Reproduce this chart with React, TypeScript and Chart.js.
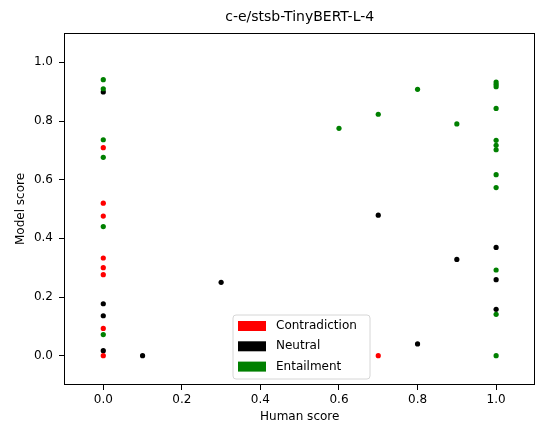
import React, { useEffect, useRef } from "react";
import { Chart, registerables } from "chart.js";

Chart.register(...registerables);

const TITLE = "c-e/stsb-TinyBERT-L-4";
const X_LABEL = "Human score";
const Y_LABEL = "Model score";
const X_TICKS = [0, 0.2, 0.4, 0.6, 0.8, 1.0];
const Y_TICKS = [0, 0.2, 0.4, 0.6, 0.8, 1.0];
const LEGEND_LABELS = ["Contradiction", "Neutral", "Entailment"];
const COLORS = ["#ff0000", "#000000", "#008000"];

const CONTRA_X = [0, 0, 0, 0, 0, 0, 0, 0, 0.7];
const CONTRA_Y = [0.709, 0.52, 0.476, 0.333, 0.3, 0.276, 0.093, 0.0, 0.0];

const NEUTRAL_X = [0, 0, 0, 0, 0.1, 0.3, 0.7, 0.8, 0.9, 1, 1, 1];
const NEUTRAL_Y = [0.899, 0.177, 0.136, 0.017, 0.0, 0.25, 0.479, 0.04, 0.328, 0.369, 0.259, 0.158];

const ENTAIL_X = [0, 0, 0, 0, 0, 0, 0.6, 0.7, 0.8, 0.9, 1, 1, 1, 1, 1, 1, 1, 1, 1, 1, 1, 1];
const ENTAIL_Y = [0.941, 0.91, 0.736, 0.676, 0.44, 0.072, 0.775, 0.823, 0.908, 0.79, 0.933, 0.925, 0.917, 0.843, 0.734, 0.717, 0.702, 0.617, 0.573, 0.292, 0.141, 0.0];

const FONT = "'DejaVu Sans', sans-serif";

const toPoints = (xs: number[], ys: number[]) => xs.map((x, i) => ({ x, y: ys[i] }));

const framePlugin = {
  id: "frameAndLegend",
  afterDraw(chart: any) {
    const { ctx, chartArea: ca } = chart;
    ctx.save();
    // frame
    ctx.strokeStyle = "#000";
    ctx.lineWidth = 1;
    ctx.strokeRect(Math.round(ca.left) + 0.5, Math.round(ca.top) + 0.5, Math.round(ca.right - ca.left) - 1, Math.round(ca.bottom - ca.top) - 1);
    // title
    ctx.fillStyle = "#000";
    ctx.font = `14px ${FONT}`;
    ctx.textAlign = "center";
    ctx.textBaseline = "middle";
    ctx.fillText(TITLE, (ca.left + ca.right) / 2, 17);
    // legend
    const bx = ca.left + 169;
    const by = ca.bottom - 70;
    const bw = 137;
    const bh = 64;
    ctx.beginPath();
    const r = 3;
    ctx.moveTo(bx + r, by);
    ctx.lineTo(bx + bw - r, by);
    ctx.quadraticCurveTo(bx + bw, by, bx + bw, by + r);
    ctx.lineTo(bx + bw, by + bh - r);
    ctx.quadraticCurveTo(bx + bw, by + bh, bx + bw - r, by + bh);
    ctx.lineTo(bx + r, by + bh);
    ctx.quadraticCurveTo(bx, by + bh, bx, by + bh - r);
    ctx.lineTo(bx, by + r);
    ctx.quadraticCurveTo(bx, by, bx + r, by);
    ctx.closePath();
    ctx.fillStyle = "rgba(255,255,255,0.8)";
    ctx.fill();
    ctx.strokeStyle = "#d6d6d6";
    ctx.lineWidth = 1;
    ctx.stroke();
    ctx.font = `12px ${FONT}`;
    ctx.textAlign = "left";
    ctx.textBaseline = "middle";
    LEGEND_LABELS.forEach((lab, i) => {
      const cy = by + 11 + i * 20.3;
      ctx.fillStyle = COLORS[i];
      ctx.fillRect(bx + 5, cy - 5, 28, 10);
      ctx.fillStyle = "#000";
      ctx.fillText(lab, bx + 43, cy);
    });
    ctx.restore();
  },
};

export default function App() {
  const ref = useRef<HTMLCanvasElement | null>(null);
  useEffect(() => {
    if (!ref.current) return;
    const mkDs = (label: string, xs: number[], ys: number[], color: string) => ({
      label,
      data: toPoints(xs, ys),
      backgroundColor: color,
      borderColor: color,
      borderWidth: 0,
      pointRadius: 2.6,
      pointHoverRadius: 2.6,
    });
    const chart = new Chart(ref.current, {
      type: "scatter",
      data: {
        datasets: [
          mkDs(LEGEND_LABELS[2], ENTAIL_X, ENTAIL_Y, COLORS[2]),
          mkDs(LEGEND_LABELS[0], CONTRA_X, CONTRA_Y, COLORS[0]),
          mkDs(LEGEND_LABELS[1], NEUTRAL_X, NEUTRAL_Y, COLORS[1]),
        ],
      },
      options: {
        responsive: false,
        animation: false,
        layout: { padding: { top: 33, right: 1, left: 0, bottom: 0 } },
        plugins: {
          legend: { display: false },
          title: { display: false },
          tooltip: { enabled: false },
        },
        scales: {
          x: {
            type: "linear",
            min: -0.1,
            max: 1.1,
            afterBuildTicks: (s: any) => {
              s.ticks = X_TICKS.map((v) => ({ value: v }));
            },
            afterFit: (s: any) => {
              s.height = 40;
            },
            border: { display: false },
            grid: { display: true, drawOnChartArea: false, drawTicks: true, tickLength: 5, tickColor: "#000", tickWidth: 1 },
            ticks: {
              color: "#000",
              font: { family: FONT, size: 12 },
              padding: 3,
              maxRotation: 0,
              callback: (v: any) => Number(v).toFixed(1),
            },
            title: {
              display: true,
              text: X_LABEL,
              color: "#000",
              font: { family: FONT, size: 12 },
              padding: { top: 0, bottom: 1 },
            },
          },
          y: {
            type: "linear",
            min: -0.1,
            max: 1.1,
            afterBuildTicks: (s: any) => {
              s.ticks = Y_TICKS.map((v) => ({ value: v }));
            },
            afterFit: (s: any) => {
              s.width = 64;
            },
            border: { display: false },
            grid: { display: true, drawOnChartArea: false, drawTicks: true, tickLength: 5, tickColor: "#000", tickWidth: 1 },
            ticks: {
              color: "#000",
              font: { family: FONT, size: 12 },
              padding: 6,
              callback: (v: any) => Number(v).toFixed(1),
            },
            title: {
              display: true,
              text: Y_LABEL,
              color: "#000",
              font: { family: FONT, size: 12 },
              padding: { top: 14, bottom: 0 },
            },
          },
        },
      },
      plugins: [framePlugin],
    } as any);
    return () => chart.destroy();
  }, []);
  return (
    <div style={{ position: "fixed", left: 0, top: 0, width: 538, height: 425, background: "#fff" }}>
      <canvas ref={ref} width={538} height={425} style={{ display: "block" }} />
    </div>
  );
}
